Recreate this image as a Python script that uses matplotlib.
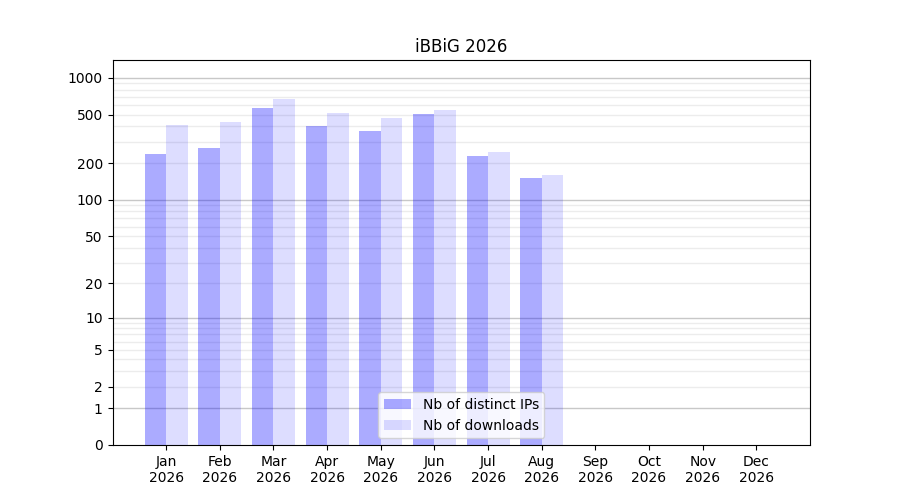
import numpy as np
import matplotlib
matplotlib.use("Agg")
import matplotlib.pyplot as plt

months = ["Jan", "Feb", "Mar", "Apr", "May", "Jun",
          "Jul", "Aug", "Sep", "Oct", "Nov", "Dec"]
year = 2026
distinct_ips = [240, 264, 572, 400, 370, 510, 231, 150]
downloads = [408, 439, 677, 519, 473, 550, 245, 159]
ytick_values = [0, 1, 2, 5, 10, 20, 50, 100, 200, 500, 1000]

fig, ax = plt.subplots(figsize=(9, 5), dpi=100)

ax.set_yscale("function",
              functions=(lambda v: np.log10(1 + np.maximum(v, -0.999)),
                         lambda v: 10 ** v - 1))

# grid lines: darker on decades, lighter in between
for d in [1, 10, 100, 1000]:
    ax.axhline(d, color="#c8c8c8", lw=1, zorder=0)
    for k in range(2, 10):
        if d * k < 1400:
            ax.axhline(d * k, color="#ececec", lw=1, zorder=0)

x = np.arange(len(distinct_ips))
ax.bar(x, distinct_ips, width=-0.4, align="edge", color="blue", alpha=0.33,
       label="Nb of distinct IPs", zorder=2)
ax.bar(x, downloads, width=0.4, align="edge", color="blue", alpha=0.135,
       label="Nb of downloads", zorder=2)

ax.set_ylim(0, 1400)
ax.set_yticks(ytick_values)
ax.set_yticklabels([str(v) for v in ytick_values])
ax.minorticks_off()

ax.set_xticks(range(len(months)))
ax.set_xticklabels([f"{m}\n{year}" for m in months])
ax.set_xlim(-1, 12)

ax.set_title(f"iBBiG {year}")
ax.legend(loc="lower center")

plt.savefig("out.png")
